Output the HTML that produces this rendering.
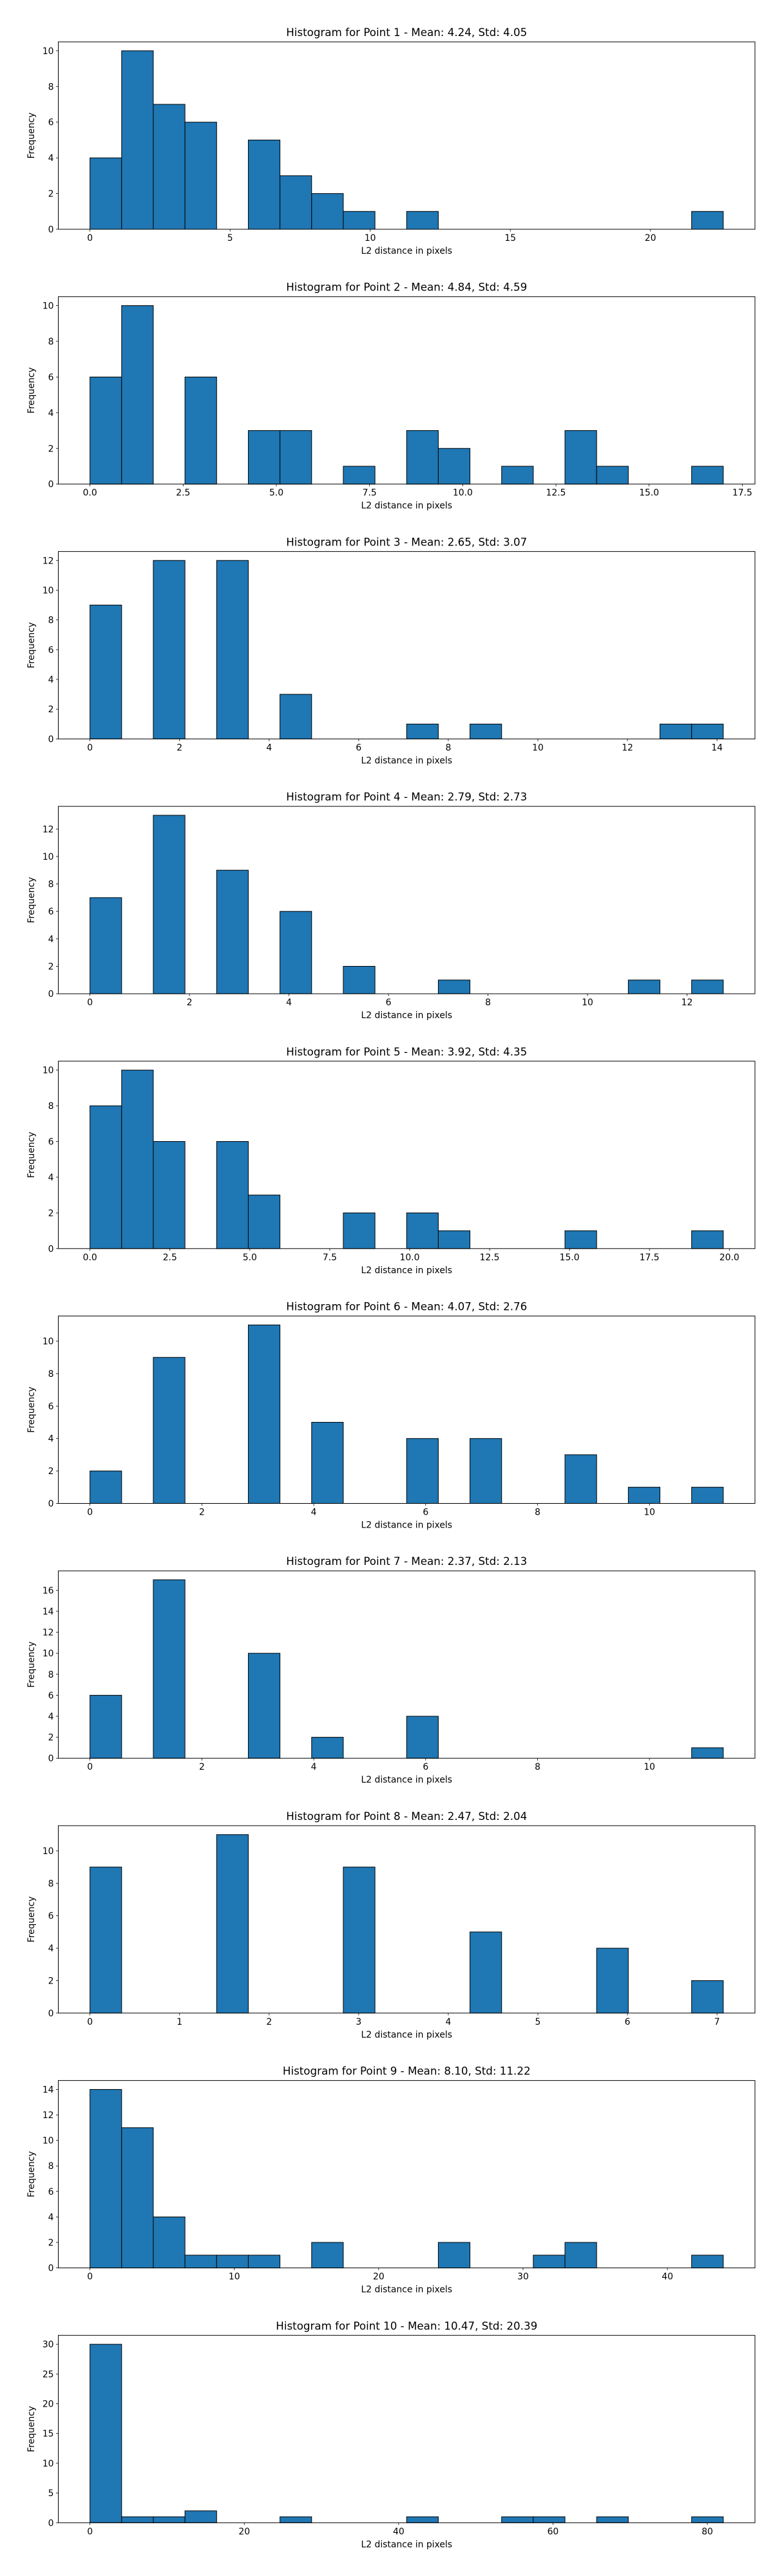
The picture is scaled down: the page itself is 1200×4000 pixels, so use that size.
<!DOCTYPE html>
<html>
<head>
<meta charset="utf-8">
<style>
html,body{margin:0;padding:0;background:#fff;}
svg{display:block;}
text{font-family:"DejaVu Sans","Liberation Sans",sans-serif;fill:#000;}
</style>
</head>
<body>
<svg id="fig" width="1200" height="4000" viewBox="0 0 1200 4000" xmlns="http://www.w3.org/2000/svg"></svg>
<script>
const titles = [
  "Histogram for Point 1 - Mean: 4.24, Std: 4.05",
  "Histogram for Point 2 - Mean: 4.84, Std: 4.59",
  "Histogram for Point 3 - Mean: 2.65, Std: 3.07",
  "Histogram for Point 4 - Mean: 2.79, Std: 2.73",
  "Histogram for Point 5 - Mean: 3.92, Std: 4.35",
  "Histogram for Point 6 - Mean: 4.07, Std: 2.76",
  "Histogram for Point 7 - Mean: 2.37, Std: 2.13",
  "Histogram for Point 8 - Mean: 2.47, Std: 2.04",
  "Histogram for Point 9 - Mean: 8.10, Std: 11.22",
  "Histogram for Point 10 - Mean: 10.47, Std: 20.39"
];
const binMin = [0,0,0,0,0,0,0,0,0,0];
const binMax = [22.6,16.99,14.14,12.73,19.81,11.32,11.32,7.07,43.87,82.07];
const counts1 = [4,10,7,6,0,5,3,2,1,0,1,0,0,0,0,0,0,0,0,1];
const counts2 = [6,10,0,6,0,3,3,0,1,0,3,2,0,1,0,3,1,0,0,1];
const counts3 = [9,0,12,0,12,0,3,0,0,0,1,0,1,0,0,0,0,0,1,1];
const counts4 = [7,0,13,0,9,0,6,0,2,0,0,1,0,0,0,0,0,1,0,1];
const counts5 = [8,10,6,0,6,3,0,0,2,0,2,1,0,0,0,1,0,0,0,1];
const counts6 = [2,0,9,0,0,11,0,5,0,0,4,0,4,0,0,3,0,1,0,1];
const counts7 = [6,0,17,0,0,10,0,2,0,0,4,0,0,0,0,0,0,0,0,1];
const counts8 = [9,0,0,0,11,0,0,0,9,0,0,0,5,0,0,0,4,0,0,2];
const counts9 = [14,11,4,1,1,1,0,2,0,0,0,2,0,0,1,2,0,0,0,1];
const counts10 = [30,1,1,2,0,0,1,0,0,0,1,0,0,1,1,0,1,0,0,1];
const allCounts = [counts1,counts2,counts3,counts4,counts5,counts6,counts7,counts8,counts9,counts10];
const xTickStep = [5,2.5,2,2,2.5,2,2,1,10,20];
const xTickDecimals = [0,1,0,0,1,0,0,0,0,0];
const yTickStep = [2,2,2,2,2,2,2,2,2,5];

const NS = "http://www.w3.org/2000/svg";
const fig = document.getElementById("fig");
function mk(tag, attrs, parent){
  const e = document.createElementNS(NS, tag);
  for (const k in attrs) e.setAttribute(k, attrs[k]);
  (parent||fig).appendChild(e);
  return e;
}
const AX_L = 90.5, AX_R = 1172, AX_H = 291, TOP0 = 65, PITCH = 395.7;

for (let p = 0; p < 10; p++) {
  const g = mk("g", {});
  
  
  const top = TOP0 + PITCH * p, bot = top + AX_H;
  const cnt = allCounts[p];
  const lo = binMin[p], hi = binMax[p], R = hi - lo;
  const xmin = lo - 0.05 * R, xmax = hi + 0.05 * R;
  const ymax = Math.max(...cnt) * 1.05;
  const xs = v => AX_L + (v - xmin) / (xmax - xmin) * (AX_R - AX_L);
  const ys = v => bot - v / ymax * AX_H;
  const bw = R / cnt.length;

  // bars
  for (let i = 0; i < cnt.length; i++) {
    const x0 = xs(lo + i * bw), x1 = xs(lo + (i + 1) * bw);
    const r = mk("rect", {x: x0, y: ys(cnt[i]), width: x1 - x0, height: bot - ys(cnt[i]),
      fill: "#1f77b4", stroke: "#000", "stroke-width": 1}, g);
    
    
  }
  // frame
  const fr = mk("rect", {x: AX_L, y: top, width: AX_R - AX_L, height: AX_H, fill: "none", stroke: "#000", "stroke-width": 1}, g);
  
  

  // x ticks
  const xs0 = Math.ceil(xmin / xTickStep[p]) * xTickStep[p];
  for (let v = xs0; v <= xmax + 1e-9; v += xTickStep[p]) {
    const x = xs(v);
    mk("line", {x1: x, x2: x, y1: bot, y2: bot + 3.5, stroke: "#000", "stroke-width": 0.8}, g);
    const t = mk("text", {x: x, y: bot + 18, "text-anchor": "middle", "font-size": 13.9}, g);
    t.textContent = v.toFixed(xTickDecimals[p]);
    
    
  }
  // y ticks
  for (let v = 0; v <= ymax + 1e-9; v += yTickStep[p]) {
    const y = ys(v);
    mk("line", {x1: AX_L - 3.5, x2: AX_L, y1: y, y2: y, stroke: "#000", "stroke-width": 0.8}, g);
    const t = mk("text", {x: AX_L - 7, y: y + 5, "text-anchor": "end", "font-size": 13.9}, g);
    t.textContent = String(v);
    
    
  }
  // title
  const tt = mk("text", {x: (AX_L + AX_R) / 2, y: top - 9, "text-anchor": "middle", "font-size": 16.7}, g);
  tt.textContent = titles[p];
  
  
  // x label
  const xl = mk("text", {x: (AX_L + AX_R) / 2, y: bot + 38, "text-anchor": "middle", "font-size": 13.9}, g);
  xl.textContent = "L2 distance in pixels";
  
  
  // y label
  const cy = (top + bot) / 2;
  const yl = mk("text", {x: 53, y: cy, "text-anchor": "middle", "font-size": 13.9, transform: "rotate(-90 53 " + cy + ")"}, g);
  yl.textContent = "Frequency";
  
  
}
</script>
</body>
</html>
